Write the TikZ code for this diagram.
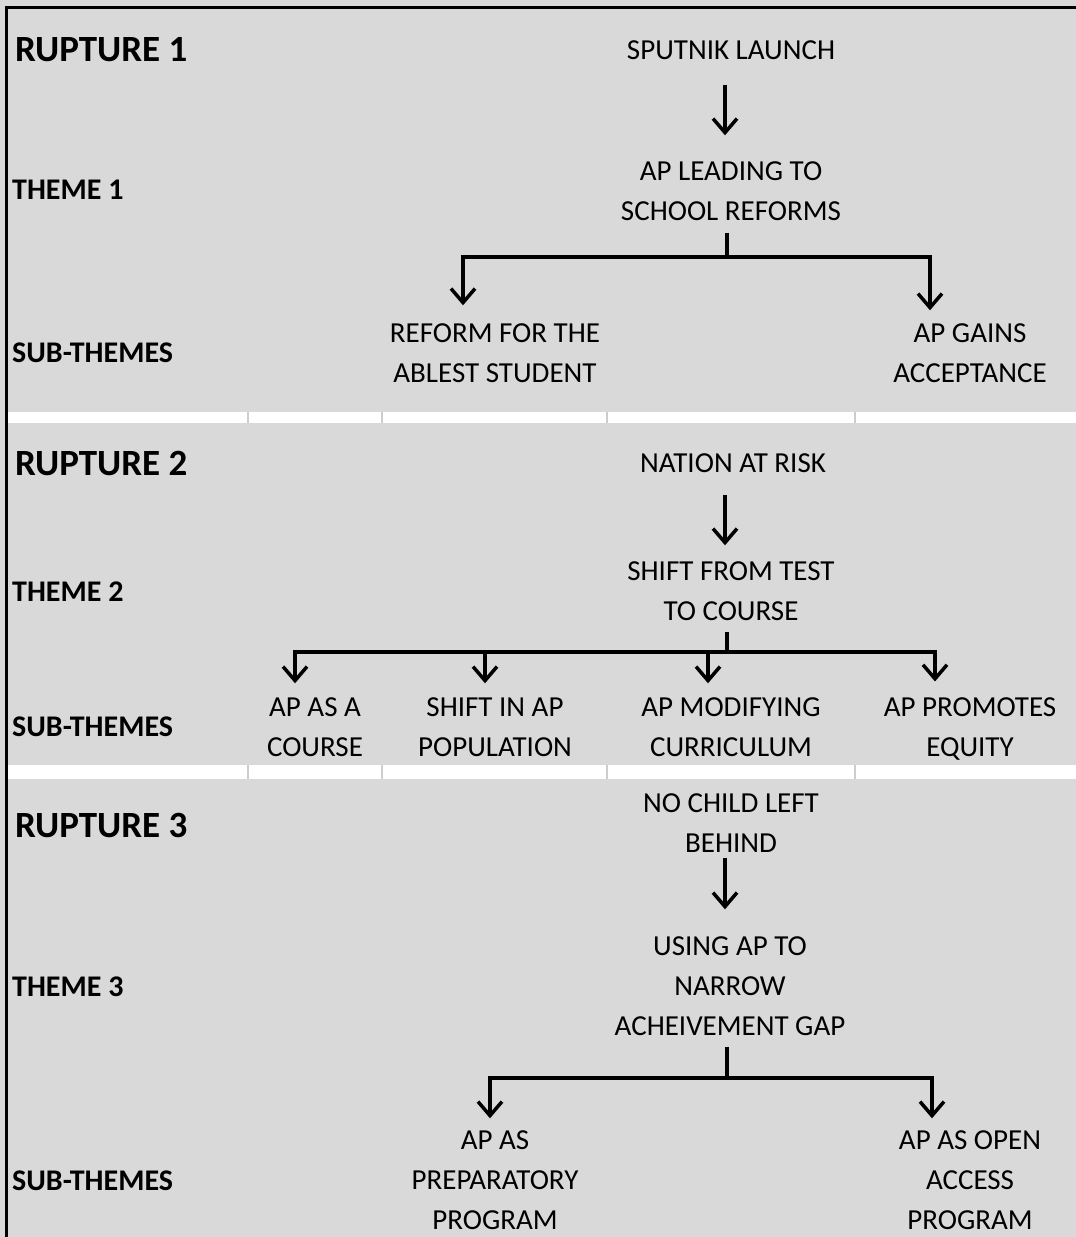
\documentclass[tikz,border=0pt]{standalone}
\usepackage{fontspec}
\setmainfont{Carlito}
\usetikzlibrary{arrows.meta}
\definecolor{cellgray}{RGB}{217,217,217}
\definecolor{gridgray}{RGB}{205,205,205}
\begin{document}
\begin{tikzpicture}[x=1pt, y=-1pt,
		main/.style = {align=center, inner sep=0pt, font=\fontsize{29}{40}\selectfont},
		head/.style = {anchor=west, inner sep=0pt, font=\fontsize{37}{40}\selectfont\bfseries},
		row/.style = {anchor=west, inner sep=0pt, font=\fontsize{30}{34}\selectfont\bfseries},
		link/.style = {line width=3.5pt},
		flow/.style = {line width=3.5pt, -{Straight Barb[length=14pt, width=24pt]}},
		band/.style = {fill=white},
		cut/.style = {draw=gridgray, line width=2pt}]
			\useasboundingbox (0,0) rectangle (1076,1237);
			\fill[cellgray] (0,0) rectangle (1076,1237);
			\fill[band] (7,412) rectangle (1076,423);
			\fill[band] (7,765) rectangle (1076,779);
			\foreach \x in {248,382,607,855} {
				\draw[cut] (\x,412) -- (\x,423);
				\draw[cut] (\x,765) -- (\x,779);
			}
			\draw[line width=3pt] (6,1237) -- (6,7) -- (1076,7);
			\node[head] (h1) at (15,50) {RUPTURE 1};
			\node[row] (t1) at (12,190) {THEME 1};
			\node[row] (s1) at (12,353) {SUB-THEMES};
			\node[main] (1) at (731,50) {SPUTNIK LAUNCH};
			\node[main] (2) at (731,191) {AP LEADING TO\\SCHOOL REFORMS};
			\node[main] (3) at (495,353) {REFORM FOR THE\\ABLEST STUDENT};
			\node[main] (4) at (970,353) {AP GAINS\\ACCEPTANCE};
			\coordinate (b1) at (727,257);
			\draw[flow, shorten <=25pt, shorten >=26pt] ([xshift=-6pt]1.south) -- ([xshift=-6pt]2.north);
			\draw[link] ([xshift=-4pt]2.south) ++(0,12) -- (b1);
			\draw[flow] (b1) -| ([xshift=-32pt, yshift=18pt]3.north);
			\draw[flow] (b1) -| ([xshift=-40pt, yshift=13pt]4.north);
			\node[head] (h2) at (15,463) {RUPTURE 2};
			\node[row] (t2) at (12,592) {THEME 2};
			\node[row] (s2) at (12,727) {SUB-THEMES};
			\node[main] (5) at (733,463) {NATION AT RISK};
			\node[main] (6) at (731,591) {SHIFT FROM TEST\\TO COURSE};
			\node[main] (7) at (315,727) {AP AS A\\COURSE};
			\node[main] (8) at (495,727) {SHIFT IN AP\\POPULATION};
			\node[main] (9) at (731,727) {AP MODIFYING\\CURRICULUM};
			\node[main] (10) at (970,729) {AP PROMOTES\\EQUITY};
			\coordinate (b2) at (727,652);
			\draw[flow, shorten <=22pt, shorten >=16pt] ([xshift=-8pt]5.south) -- ([xshift=-6pt]6.north);
			\draw[link] ([xshift=-4pt]6.south) ++(0,11) -- (b2);
			\draw[flow] (b2) -| ([xshift=-20pt, yshift=14pt]7.north);
			\draw[flow] (b2) -| ([xshift=-10pt, yshift=14pt]8.north);
			\draw[flow] (b2) -| ([xshift=-23pt, yshift=14pt]9.north);
			\draw[flow] (b2) -| ([xshift=-35pt, yshift=16pt]10.north);
			\node[head] (h3) at (15,825) {RUPTURE 3};
			\node[row] (t3) at (12,987) {THEME 3};
			\node[row] (s3) at (12,1181) {SUB-THEMES};
			\node[main] (11) at (731,823) {NO CHILD LEFT\\BEHIND};
			\node[main] (12) at (730,986) {USING AP TO\\NARROW\\ACHEIVEMENT GAP};
			\node[main] (13) at (495,1180) {AP AS\\PREPARATORY\\PROGRAM};
			\node[main] (14) at (970,1180) {AP AS OPEN\\ACCESS\\PROGRAM};
			\coordinate (b3) at (727,1078);
			\draw[flow, shorten <=5pt, shorten >=27pt] ([xshift=-6pt]11.south) -- ([xshift=-5pt]12.north);
			\draw[link] ([xshift=-3pt]12.south) ++(0,11) -- (b3);
			\draw[flow] (b3) -| ([xshift=-5pt, yshift=12pt]13.north);
			\draw[flow] (b3) -| ([xshift=-38pt, yshift=12pt]14.north);
		\end{tikzpicture}
\end{document}
